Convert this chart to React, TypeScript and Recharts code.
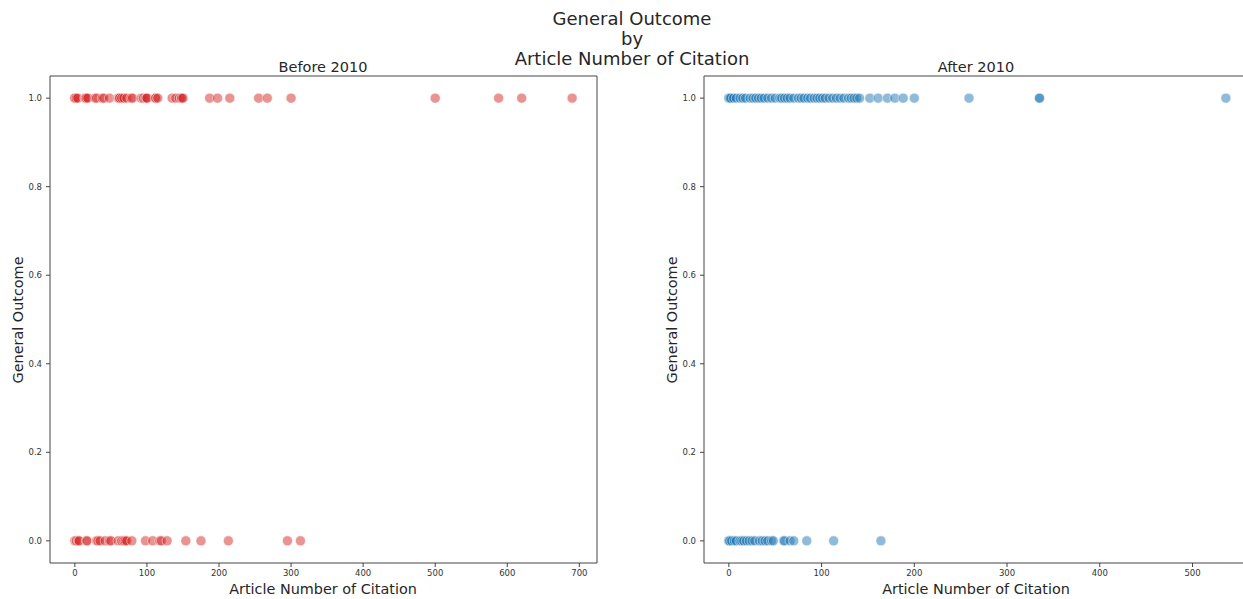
import { ReferenceArea, Scatter, ScatterChart, XAxis, YAxis } from "recharts";

// citation counts, split by outcome (1 = positive, 0 = negative)
const BEFORE_POSITIVE = [
  0, 0, 2, 4, 14, 15, 16, 18, 28, 30, 38, 40, 48, 60, 62, 62, 65, 68, 72, 78, 80,
  92, 95, 98, 100, 100, 112, 112, 115, 135, 140, 145, 148, 148, 150, 187, 198, 215,
  255, 267, 300, 500, 588, 620, 690,
];
const BEFORE_NEGATIVE = [
  0, 2, 5, 6, 16, 17, 30, 32, 35, 42, 48, 50, 60, 65, 68, 70, 72, 79, 98, 108, 118,
  120, 128, 154, 175, 213, 295, 313,
];
const AFTER_POSITIVE = [
  0, 0, 1, 2, 5, 8, 12, 15, 18, 23, 26, 29, 32, 35, 38, 42, 46, 50, 55, 57, 60, 63,
  66, 70, 75, 78, 81, 85, 88, 92, 95, 98, 101, 104, 108, 112, 116, 120, 124, 129,
  132, 135, 138, 141, 152, 161, 171, 179, 188, 200, 259, 335, 335, 536,
];
const AFTER_NEGATIVE = [
  0, 0, 1, 3, 6, 8, 12, 14, 16, 19, 22, 25, 28, 33, 36, 39, 42, 46, 48, 59, 60, 66,
  70, 84, 113, 164,
];

const Y_TICKS = [0, 0.2, 0.4, 0.6, 0.8, 1.0];
const BEFORE_X_TICKS = [0, 100, 200, 300, 400, 500, 600, 700];
const AFTER_X_TICKS = [0, 100, 200, 300, 400, 500];

const RED = "#d62728";
const BLUE = "#1f77b4";
const TEXT = "#262626";
const FONT = "'DejaVu Sans', sans-serif";

const toPoints = (xs: number[], outcome: number) => xs.map((x) => ({ x, y: outcome }));

type PanelProps = {
  left: number;
  width: number;
  marginLeft: number;
  marginRight: number;
  positive: number[];
  negative: number[];
  color: string;
  xDomain: [number, number];
  xTicks: number[];
};

function Panel(p: PanelProps) {
  const data = [...toPoints(p.positive, 1), ...toPoints(p.negative, 0)];
  const dot = (props: any) => (
    <circle
      cx={props.cx}
      cy={props.cy}
      r={5}
      fill={p.color}
      fillOpacity={0.5}
      stroke="#ffffff"
      strokeOpacity={0.7}
      strokeWidth={0.7}
    />
  );
  const tick = { fill: "#333", fontSize: 8.5, fontFamily: FONT };
  return (
    <div style={{ position: "absolute", left: p.left, top: 0 }}>
      <ScatterChart
        width={p.width}
        height={599}
        margin={{ top: 76, right: p.marginRight, bottom: 6, left: p.marginLeft }}
      >
        <XAxis
          type="number"
          dataKey="x"
          domain={p.xDomain}
          ticks={p.xTicks}
          allowDataOverflow
          height={30}
          axisLine={false}
          tickSize={4}
          tickMargin={3}
          tickLine={{ stroke: "#444" }}
          tick={tick}
        />
        <YAxis
          type="number"
          dataKey="y"
          domain={[-0.05, 1.05]}
          ticks={Y_TICKS}
          allowDataOverflow
          width={40}
          axisLine={false}
          tickSize={4}
          tickMargin={4}
          tickLine={{ stroke: "#444" }}
          tick={tick}
          tickFormatter={(v: number) => v.toFixed(1)}
        />
        <ReferenceArea
          x1={p.xDomain[0]}
          x2={p.xDomain[1]}
          y1={-0.05}
          y2={1.05}
          fill="none"
          stroke="#444"
          strokeWidth={1}
          ifOverflow="visible"
        />
        <Scatter data={data} shape={dot} isAnimationActive={false} />
      </ScatterChart>
    </div>
  );
}

const label = (text: string, x: number, y: number, size: number, rotate = false) => (
  <div
    style={{
      position: "absolute",
      left: x,
      top: y,
      transform: `translate(-50%, -50%)${rotate ? " rotate(-90deg)" : ""}`,
      whiteSpace: "nowrap",
      fontSize: size,
      fontFamily: FONT,
      color: TEXT,
      lineHeight: 1,
    }}
  >
    {text}
  </div>
);

export default function App() {
  return (
    <div
      style={{
        position: "absolute",
        left: 0,
        top: 0,
        width: 1243,
        height: 599,
        overflow: "hidden",
        background: "#fff",
      }}
    >
      <Panel
        left={0}
        width={620}
        marginLeft={10}
        marginRight={23}
        positive={BEFORE_POSITIVE}
        negative={BEFORE_NEGATIVE}
        color={RED}
        xDomain={[-34.5, 724.5]}
        xTicks={BEFORE_X_TICKS}
      />
      <Panel
        left={620}
        width={640}
        marginLeft={44}
        marginRight={10}
        positive={AFTER_POSITIVE}
        negative={AFTER_NEGATIVE}
        color={BLUE}
        xDomain={[-26.8, 562]}
        xTicks={AFTER_X_TICKS}
      />
      {label("General Outcome", 632, 19, 18)}
      {label("by", 632, 39, 18)}
      {label("Article Number of Citation", 632, 59, 18)}
      {label("Before 2010", 323, 67, 14.5)}
      {label("After 2010", 976, 67, 14.5)}
      {label("Article Number of Citation", 323, 589, 14.4)}
      {label("Article Number of Citation", 976, 589, 14.4)}
      {label("General Outcome", 18, 320, 14.4, true)}
      {label("General Outcome", 672, 320, 14.4, true)}
    </div>
  );
}
